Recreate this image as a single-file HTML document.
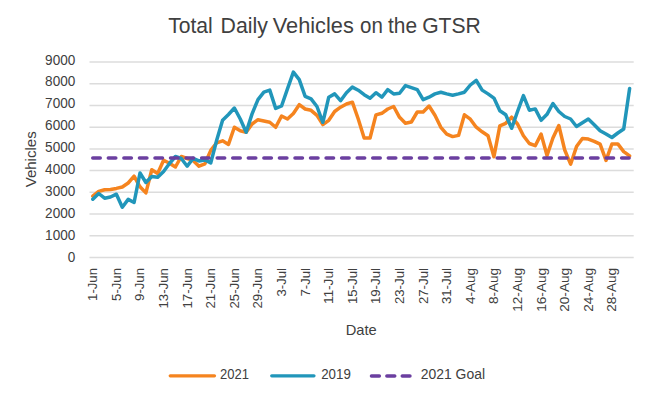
<!DOCTYPE html>
<html><head><meta charset="utf-8"><style>
html,body{margin:0;padding:0;background:#fff;}
body{width:650px;height:398px;overflow:hidden;}
svg{display:block;font-family:"Liberation Sans",sans-serif;}
</style></head><body>
<svg width="650" height="398" viewBox="0 0 650 398">
<rect width="650" height="398" fill="#fff"/>
<g font-size="22" fill="#404040"><text x="168.2" y="33.2" textLength="44.6" lengthAdjust="spacingAndGlyphs">Total</text><text x="220.6" y="33.2" textLength="47.3" lengthAdjust="spacingAndGlyphs">Daily</text><text x="272.8" y="33.2" textLength="81" lengthAdjust="spacingAndGlyphs">Vehicles</text><text x="360.1" y="33.2" textLength="22.8" lengthAdjust="spacingAndGlyphs">on</text><text x="388" y="33.2" textLength="29" lengthAdjust="spacingAndGlyphs">the</text><text x="422.2" y="33.2" textLength="58.6" lengthAdjust="spacingAndGlyphs">GTSR</text></g>
<g stroke="#dcdcdc" stroke-width="1.5"><line x1="89.5" y1="62.00" x2="633.7" y2="62.00"/><line x1="89.5" y1="83.72" x2="633.7" y2="83.72"/><line x1="89.5" y1="105.44" x2="633.7" y2="105.44"/><line x1="89.5" y1="127.16" x2="633.7" y2="127.16"/><line x1="89.5" y1="148.88" x2="633.7" y2="148.88"/><line x1="89.5" y1="170.60" x2="633.7" y2="170.60"/><line x1="89.5" y1="192.32" x2="633.7" y2="192.32"/><line x1="89.5" y1="214.04" x2="633.7" y2="214.04"/><line x1="89.5" y1="235.76" x2="633.7" y2="235.76"/><line x1="89.5" y1="257.48" x2="633.7" y2="257.48"/></g>
<g font-size="14" fill="#404040"><text x="75.3" y="64.50" text-anchor="end" textLength="30.20" lengthAdjust="spacingAndGlyphs">9000</text><text x="75.3" y="86.43" text-anchor="end" textLength="30.20" lengthAdjust="spacingAndGlyphs">8000</text><text x="75.3" y="108.36" text-anchor="end" textLength="30.20" lengthAdjust="spacingAndGlyphs">7000</text><text x="75.3" y="130.29" text-anchor="end" textLength="30.20" lengthAdjust="spacingAndGlyphs">6000</text><text x="75.3" y="152.22" text-anchor="end" textLength="30.20" lengthAdjust="spacingAndGlyphs">5000</text><text x="75.3" y="174.15" text-anchor="end" textLength="30.20" lengthAdjust="spacingAndGlyphs">4000</text><text x="75.3" y="196.08" text-anchor="end" textLength="30.20" lengthAdjust="spacingAndGlyphs">3000</text><text x="75.3" y="218.01" text-anchor="end" textLength="30.20" lengthAdjust="spacingAndGlyphs">2000</text><text x="75.3" y="239.94" text-anchor="end" textLength="30.20" lengthAdjust="spacingAndGlyphs">1000</text><text x="75.3" y="261.87" text-anchor="end" textLength="7.55" lengthAdjust="spacingAndGlyphs">0</text></g>
<g font-size="13" fill="#404040"><text transform="translate(97.30,268) rotate(-90)" text-anchor="end" textLength="32.95" lengthAdjust="spacingAndGlyphs">1-Jun</text><text transform="translate(120.90,268) rotate(-90)" text-anchor="end" textLength="32.95" lengthAdjust="spacingAndGlyphs">5-Jun</text><text transform="translate(144.49,268) rotate(-90)" text-anchor="end" textLength="32.95" lengthAdjust="spacingAndGlyphs">9-Jun</text><text transform="translate(168.09,268) rotate(-90)" text-anchor="end" textLength="40.60" lengthAdjust="spacingAndGlyphs">13-Jun</text><text transform="translate(191.68,268) rotate(-90)" text-anchor="end" textLength="40.60" lengthAdjust="spacingAndGlyphs">17-Jun</text><text transform="translate(215.28,268) rotate(-90)" text-anchor="end" textLength="40.60" lengthAdjust="spacingAndGlyphs">21-Jun</text><text transform="translate(238.88,268) rotate(-90)" text-anchor="end" textLength="40.60" lengthAdjust="spacingAndGlyphs">25-Jun</text><text transform="translate(262.47,268) rotate(-90)" text-anchor="end" textLength="40.60" lengthAdjust="spacingAndGlyphs">29-Jun</text><text transform="translate(286.07,268) rotate(-90)" text-anchor="end" textLength="28.48" lengthAdjust="spacingAndGlyphs">3-Jul</text><text transform="translate(309.66,268) rotate(-90)" text-anchor="end" textLength="28.48" lengthAdjust="spacingAndGlyphs">7-Jul</text><text transform="translate(333.26,268) rotate(-90)" text-anchor="end" textLength="36.13" lengthAdjust="spacingAndGlyphs">11-Jul</text><text transform="translate(356.86,268) rotate(-90)" text-anchor="end" textLength="36.13" lengthAdjust="spacingAndGlyphs">15-Jul</text><text transform="translate(380.45,268) rotate(-90)" text-anchor="end" textLength="36.13" lengthAdjust="spacingAndGlyphs">19-Jul</text><text transform="translate(404.05,268) rotate(-90)" text-anchor="end" textLength="36.13" lengthAdjust="spacingAndGlyphs">23-Jul</text><text transform="translate(427.64,268) rotate(-90)" text-anchor="end" textLength="36.13" lengthAdjust="spacingAndGlyphs">27-Jul</text><text transform="translate(451.24,268) rotate(-90)" text-anchor="end" textLength="36.13" lengthAdjust="spacingAndGlyphs">31-Jul</text><text transform="translate(474.84,268) rotate(-90)" text-anchor="end" textLength="36.06" lengthAdjust="spacingAndGlyphs">4-Aug</text><text transform="translate(498.43,268) rotate(-90)" text-anchor="end" textLength="36.06" lengthAdjust="spacingAndGlyphs">8-Aug</text><text transform="translate(522.03,268) rotate(-90)" text-anchor="end" textLength="43.71" lengthAdjust="spacingAndGlyphs">12-Aug</text><text transform="translate(545.62,268) rotate(-90)" text-anchor="end" textLength="43.71" lengthAdjust="spacingAndGlyphs">16-Aug</text><text transform="translate(569.22,268) rotate(-90)" text-anchor="end" textLength="43.71" lengthAdjust="spacingAndGlyphs">20-Aug</text><text transform="translate(592.82,268) rotate(-90)" text-anchor="end" textLength="43.71" lengthAdjust="spacingAndGlyphs">24-Aug</text><text transform="translate(616.41,268) rotate(-90)" text-anchor="end" textLength="43.71" lengthAdjust="spacingAndGlyphs">28-Aug</text></g>
<text transform="translate(36,187.3) rotate(-90)" font-size="14.5" fill="#404040" textLength="56" lengthAdjust="spacingAndGlyphs">Vehicles</text>
<text x="345.7" y="334.7" font-size="14.5" fill="#404040" textLength="31" lengthAdjust="spacingAndGlyphs">Date</text>
<polyline points="92.80,196.20 98.70,191.40 104.60,189.70 110.50,189.40 116.40,188.40 122.30,187.00 128.19,183.00 134.09,176.20 139.99,186.80 145.89,192.90 151.79,169.70 157.69,173.50 163.59,160.20 169.49,163.30 175.39,167.00 181.28,156.50 187.18,158.50 193.08,160.40 198.98,166.20 204.88,163.80 210.78,150.40 216.68,142.80 222.58,140.80 228.48,144.40 234.38,127.20 240.27,130.80 246.17,132.30 252.07,124.00 257.97,119.70 263.87,121.00 269.77,122.20 275.67,127.30 281.57,116.00 287.47,119.00 293.37,113.50 299.26,104.70 305.16,109.00 311.06,110.30 316.96,115.30 322.86,124.60 328.76,120.30 334.66,111.50 340.56,107.20 346.46,104.00 352.36,102.20 358.25,119.00 364.15,138.00 370.05,138.00 375.95,114.90 381.85,113.30 387.75,109.00 393.65,106.50 399.55,117.30 405.45,123.20 411.35,122.00 417.25,112.00 423.14,112.00 429.04,106.00 434.94,115.30 440.84,127.30 446.74,134.10 452.64,136.60 458.54,135.40 464.44,114.80 470.34,119.20 476.24,127.20 482.13,131.80 488.03,135.80 493.93,156.70 499.83,125.80 505.73,123.30 511.63,117.20 517.53,124.00 523.43,135.80 529.33,143.50 535.23,145.70 541.12,134.10 547.02,155.50 552.92,138.00 558.82,125.50 564.72,150.00 570.62,164.20 576.52,146.60 582.42,138.40 588.32,139.10 594.22,141.30 600.11,144.10 606.01,160.40 611.91,144.00 617.81,143.90 623.71,151.60 629.61,155.90" fill="none" stroke="#f5841f" stroke-width="3.5" stroke-linejoin="round" stroke-linecap="round"/>
<polyline points="92.80,199.20 98.70,193.50 104.60,198.20 110.50,197.00 116.40,194.20 122.30,207.30 128.19,199.40 134.09,202.50 139.99,173.00 145.89,182.50 151.79,176.50 157.69,177.30 163.59,171.50 169.49,163.50 175.39,156.50 181.28,158.50 187.18,166.20 193.08,158.40 198.98,160.90 204.88,159.90 210.78,162.90 216.68,140.30 222.58,120.20 228.48,114.50 234.38,108.00 240.27,119.00 246.17,132.30 252.07,113.90 257.97,99.60 263.87,92.10 269.77,90.10 275.67,108.40 281.57,106.00 287.47,88.90 293.37,72.10 299.26,79.60 305.16,96.40 311.06,98.90 316.96,106.50 322.86,122.30 328.76,97.20 334.66,93.90 340.56,100.70 346.46,92.70 352.36,87.10 358.25,90.20 364.15,94.70 370.05,98.20 375.95,92.70 381.85,97.20 387.75,89.60 393.65,93.90 399.55,93.20 405.45,85.60 411.35,87.60 417.25,89.60 423.14,99.70 429.04,97.20 434.94,93.90 440.84,92.20 446.74,93.90 452.64,95.20 458.54,93.90 464.44,92.20 470.34,85.00 476.24,80.30 482.13,90.10 488.03,93.90 493.93,98.10 499.83,110.70 505.73,114.70 511.63,128.30 517.53,111.50 523.43,95.60 529.33,110.20 535.23,108.90 541.12,120.30 547.02,114.30 552.92,103.50 558.82,111.50 564.72,116.50 570.62,119.00 576.52,126.50 582.42,122.70 588.32,119.00 594.22,124.70 600.11,130.80 606.01,134.00 611.91,137.50 617.81,133.00 623.71,129.00 629.61,88.50" fill="none" stroke="#2196ba" stroke-width="3.5" stroke-linejoin="round" stroke-linecap="round"/>
<line x1="92.75" y1="158" x2="629.15" y2="158" stroke="#6b3fa0" stroke-width="3.5" stroke-dasharray="7.5 8.055" stroke-linecap="round"/>
<line x1="170.2" y1="375.8" x2="214.5" y2="375.8" stroke="#f5841f" stroke-width="3.2" stroke-linecap="round"/>
<text x="220" y="378.7" font-size="14" fill="#404040" textLength="28.9" lengthAdjust="spacingAndGlyphs">2021</text>
<line x1="271.7" y1="375.8" x2="314" y2="375.8" stroke="#2196ba" stroke-width="3.2" stroke-linecap="round"/>
<text x="321.2" y="378.7" font-size="14" fill="#404040" textLength="29.6" lengthAdjust="spacingAndGlyphs">2019</text>
<line x1="371.45" y1="376" x2="409.95" y2="376" stroke="#6b3fa0" stroke-width="3.5" stroke-dasharray="7.9 7.5" stroke-linecap="round"/>
<text x="420.8" y="378.7" font-size="14" fill="#404040" textLength="64.2" lengthAdjust="spacingAndGlyphs">2021 Goal</text>
</svg>
</body></html>
